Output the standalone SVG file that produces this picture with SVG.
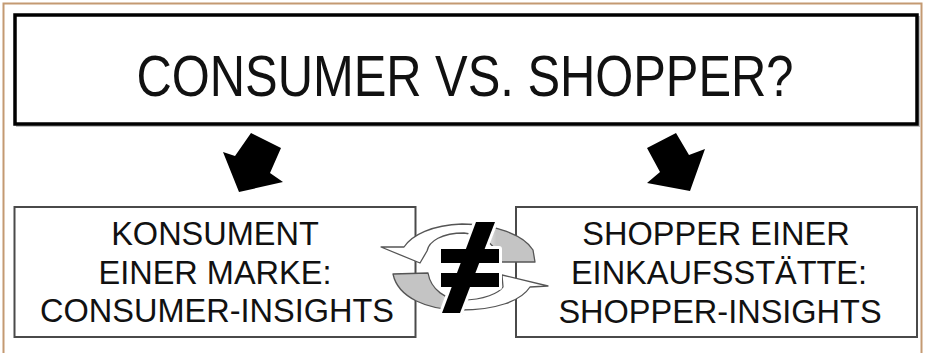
<svg xmlns="http://www.w3.org/2000/svg" width="925" height="353" viewBox="0 0 925 353">
  <defs>
    <style>
      .frame { fill: #ffffff; stroke: #c49a72; stroke-width: 2; }
      .title-box { fill: #ffffff; stroke: #000000; stroke-width: 3.5; }
      .shadow { fill: none; stroke: #c0c0c0; stroke-width: 2; }
      .box { fill: #ffffff; stroke: #4a4a4a; stroke-width: 2; }
      .t { font-family: "Liberation Sans", Arial, sans-serif; fill: #111111; text-anchor: middle; }
      .title { font-size: 58px; }
      .lbl { font-size: 32.5px; }
      .arrow { fill: #000000; }
      .bubble { stroke: #555555; stroke-width: 1.3; stroke-linejoin: round; }
      .halo { fill: #ffffff; stroke: #ffffff; stroke-width: 6; stroke-linejoin: round; }
      .neq { fill: #000000; }
    </style>
    <linearGradient id="gUp" x1="381" y1="0" x2="537" y2="0" gradientUnits="userSpaceOnUse">
      <stop offset="0" stop-color="#ffffff"/>
      <stop offset="0.62" stop-color="#ffffff"/>
      <stop offset="0.74" stop-color="#c4c4c4"/>
      <stop offset="1" stop-color="#c4c4c4"/>
    </linearGradient>
    <linearGradient id="gDn" x1="393" y1="0" x2="548" y2="0" gradientUnits="userSpaceOnUse">
      <stop offset="0" stop-color="#c4c4c4"/>
      <stop offset="0.3" stop-color="#c4c4c4"/>
      <stop offset="0.42" stop-color="#ffffff"/>
      <stop offset="1" stop-color="#ffffff"/>
    </linearGradient>
  </defs>

  <rect class="frame" x="3.5" y="3.5" width="918" height="352"/>

  <g id="title-node">
    <rect class="shadow" x="17" y="17" width="902" height="109"/>
    <rect class="title-box" x="15" y="15" width="902" height="109"/>
    <text class="t title" x="465" y="96" textLength="657" lengthAdjust="spacingAndGlyphs">CONSUMER VS. SHOPPER?</text>
  </g>

  <g id="connectors">
    <polygon class="arrow" points="251,133 281,148 270,173 283,182 239,192 223,152 235,156"/>
    <polygon class="arrow" points="647,148 676,133 689,155 705,149 690,191 647,183 660,172"/>
  </g>

  <g id="consumer-node">
    <rect class="box" x="14.5" y="207" width="401" height="130"/>
    <text class="t lbl" x="215" y="245">KONSUMENT</text>
    <text class="t lbl" x="215" y="284">EINER MARKE:</text>
    <text class="t lbl" x="217" y="322">CONSUMER-INSIGHTS</text>
  </g>

  <g id="shopper-node">
    <rect class="box" x="516" y="207" width="401" height="130"/>
    <text class="t lbl" x="716" y="245">SHOPPER EINER</text>
    <text class="t lbl" x="719" y="284">EINKAUFSSTÄTTE:</text>
    <text class="t lbl" x="720" y="323">SHOPPER-INSIGHTS</text>
  </g>

  <g id="not-equal-node">
    <path class="bubble" fill="url(#gUp)" d="M381,247 L404,247 C412,235 432,225 462,224 C495,224 524,235 533,250 L535,262 L500,262 C499,250 487,235 464,233 C442,233 429,241 427,251 L420,263 Z"/>
    <path class="bubble" fill="url(#gDn)" d="M548,286 L530,287 C521,301 496,310 460,310 C428,310 398,298 393,274 L428,273 C431,290 446,300 462,300 C484,300 499,293 503,287 L502,275 Z"/>
    <g opacity="0.25" transform="translate(2,2)">
      <polygon class="neq" points="476,222 495,222 460,313 442,313"/>
      <rect class="neq" x="441" y="249" width="58" height="14"/>
      <rect class="neq" x="441" y="273" width="58" height="14"/>
    </g>
    <polygon class="halo" points="476,222 495,222 460,313 442,313"/>
    <rect class="halo" x="441" y="249" width="58" height="14"/>
    <rect class="halo" x="441" y="273" width="58" height="14"/>
    <polygon class="neq" points="476,222 495,222 460,313 442,313"/>
    <rect class="neq" x="441" y="249" width="58" height="14"/>
    <rect class="neq" x="441" y="273" width="58" height="14"/>
  </g>
</svg>
